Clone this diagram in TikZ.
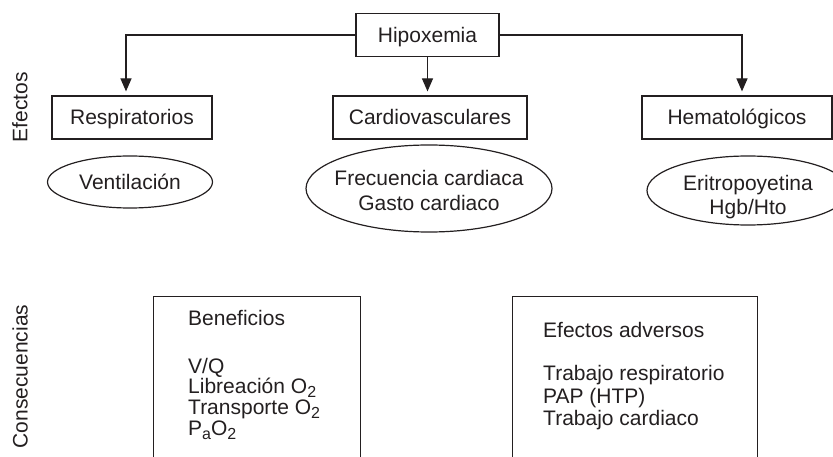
\documentclass[tikz,border=0pt]{standalone}
\usepackage{fontspec}
\setmainfont{Liberation Sans}
\usetikzlibrary{arrows.meta,shapes.geometric}
\definecolor{tinta}{RGB}{35,31,32}
\newcommand{\subidx}[1]{\raisebox{-4pt}{\fontsize{16}{16}\selectfont #1}}

\tikzset{
  caja/.style={draw=tinta, line width=1.2pt, rectangle, minimum height=43pt, inner sep=0pt, text height=15pt, text depth=0pt},
  elipse/.style={draw=tinta, line width=1.2pt, ellipse, inner sep=0pt, text height=15pt, text depth=0pt},
  flecha/.style={draw=tinta, line width=1.2pt, -{Triangle[length=13pt,width=11pt]}, shorten >=4pt},
}

\begin{document}
\begin{tikzpicture}[x=1pt, y=-1pt, every node/.style={text=tinta, font=\fontsize{21}{24}\selectfont}]
        \clip (0,0) rectangle (833,457);
        % causa y efectos
        \node[caja, minimum width=143pt] (hipo) at (427.5,35) {Hipoxemia};
        \node[caja, minimum width=160pt] (resp) at (132,117.5) {Respiratorios};
        \node[caja, minimum width=194pt] (cardio) at (430,117.5) {Cardiovasculares};
        \node[caja, minimum width=190pt] (hema) at (737,117.5) {Hematológicos};
        \draw[flecha] (hipo.west) -| ([xshift=-6pt]resp.north);
        \draw[flecha] (hipo.south) -- (hipo.south |- cardio.north);
        \draw[flecha] (hipo.east) -| ([xshift=5pt]hema.north);
        % respuestas
        \node[elipse, minimum width=165pt, minimum height=52pt] (vent) at (130,182) {Ventilación};
        \node[elipse, minimum width=246pt, minimum height=87pt] (frec) at (429,188.5) {};
        \node[align=center, inner sep=0pt] (frecT) at (429,190.5) {Frecuencia cardiaca\\[1pt]Gasto cardiaco};
        \node[elipse, minimum width=202pt, minimum height=69pt] (erit) at (748,190.5) {};
        \node[align=center, inner sep=0pt] (eritT) at (748,197.5) {Eritropoyetina\\Hgb/Hto};
        % rotulos laterales
        \node[rotate=90, inner sep=0pt] (efectos) at (20,107.5) {Efectos};
        \node[rotate=90, inner sep=0pt] (consec) at (20,376.5) {Consecuencias};
        % consecuencias
        \node[caja, anchor=north west, minimum width=207pt, minimum height=200pt] (beneficios) at (153,296) {};
        \node[caja, anchor=north west, minimum width=245pt, minimum height=200pt] (adversos) at (512,296) {};
        \foreach \y/\t [count=\i] in {325/Beneficios, 373/{V/Q}, 393/{Libreación O\subidx{2}}, 414/{Transporte O\subidx{2}}, 435/{P\subidx{a}O\subidx{2}}}
          \node[anchor=base west, inner sep=0pt] (ben-\i) at (188,\y) {\t};
        \foreach \y/\t [count=\i] in {337/Efectos adversos, 380/Trabajo respiratorio, 403/PAP (HTP), 425/Trabajo cardiaco}
          \node[anchor=base west, inner sep=0pt] (adv-\i) at (543,\y) {\t};
    \end{tikzpicture}
\end{document}
